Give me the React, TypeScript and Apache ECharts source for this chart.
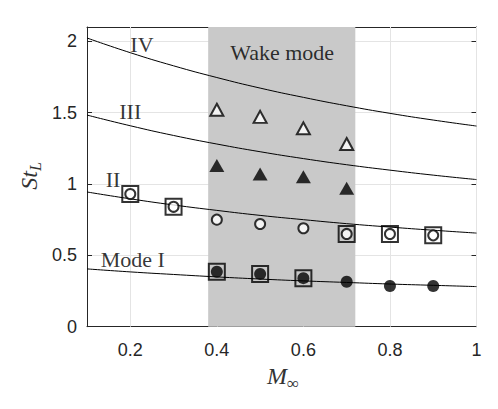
import React, { useEffect, useRef } from "react";
import * as echarts from "echarts";

// Mach numbers at which the Rossiter-mode curves were read
const machGrid = [0.1, 0.2, 0.3, 0.4, 0.5, 0.6, 0.7, 0.8, 0.9, 1.0];
const modeICurve = [0.405, 0.384, 0.366, 0.349, 0.334, 0.321, 0.31, 0.299, 0.29, 0.281];
const modeIICurve = [0.944, 0.896, 0.853, 0.815, 0.78, 0.75, 0.722, 0.698, 0.676, 0.656];
const modeIIICurve = [1.483, 1.408, 1.34, 1.28, 1.226, 1.178, 1.135, 1.097, 1.062, 1.031];
const modeIVCurve = [2.023, 1.92, 1.828, 1.746, 1.672, 1.607, 1.548, 1.495, 1.448, 1.406];

// measured points
const openTriX = [0.4, 0.5, 0.6, 0.7];
const openTriY = [1.52, 1.47, 1.39, 1.28];
const filledTriX = [0.4, 0.5, 0.6, 0.7];
const filledTriY = [1.13, 1.07, 1.05, 0.97];
const openCircX = [0.2, 0.3, 0.4, 0.5, 0.6, 0.7, 0.8, 0.9];
const openCircY = [0.93, 0.84, 0.75, 0.72, 0.69, 0.65, 0.65, 0.64];
const filledCircX = [0.4, 0.5, 0.6, 0.7, 0.8, 0.9];
const filledCircY = [0.385, 0.37, 0.34, 0.315, 0.285, 0.285];
const squareX = [0.2, 0.3, 0.7, 0.8, 0.9, 0.4, 0.5, 0.6];
const squareY = [0.93, 0.84, 0.65, 0.65, 0.64, 0.385, 0.37, 0.34];

// wake mode region
const wakeStart = 0.38;
const wakeEnd = 0.72;

// axis ticks
const xTicks = [0.2, 0.4, 0.6, 0.8, 1];
const yTicks = [0, 0.5, 1, 1.5, 2];

// annotations
const annotTexts = ["IV", "III", "II", "Mode I", "Wake mode"];
const annotX = [0.227, 0.2, 0.16, 0.206, 0.551];
const annotY = [1.98, 1.51, 1.03, 0.47, 1.92];

const zip = (xs: number[], ys: number[]) => xs.map((x, i) => [x, ys[i]]);

export default function App() {
  const ref = useRef<HTMLDivElement>(null);
  useEffect(() => {
    if (!ref.current) return;
    const chart = echarts.init(ref.current, null, { renderer: "svg" });
    const axisColor = "#262626";
    const gridColor = "#e4e4e4";
    const serif = "'Liberation Serif', 'DejaVu Serif', serif";
    const sans = "'Liberation Sans', Arial, sans-serif";
    const curve = (name: string, ys: number[]) => ({
      name,
      type: "line",
      data: zip(machGrid, ys),
      smooth: true,
      showSymbol: false,
      symbol: "none",
      lineStyle: { color: "#000", width: 1 },
      z: 4,
      silent: true,
    });
    const fmt = (v: number) => String(Math.round(v * 10) / 10);
    chart.setOption({
      animation: false,
      grid: { left: 87, right: 21.5, top: 27, bottom: 82.3, containLabel: false },
      xAxis: [
        {
          type: "value",
          min: 0.1,
          max: 1,
          position: "bottom",
          axisLine: { show: true, onZero: false, lineStyle: { color: axisColor, width: 1 } },
          axisTick: { show: true, inside: true, length: 5, customValues: xTicks, lineStyle: { color: axisColor } },
          axisLabel: {
            customValues: xTicks,
            formatter: fmt,
            fontSize: 18,
            color: axisColor,
            fontFamily: sans,
            margin: 14,
          },
          splitLine: { show: false },
        },
        {
          type: "value",
          min: 0.1,
          max: 1,
          position: "top",
          axisLine: { show: true, onZero: false, lineStyle: { color: axisColor, width: 1 } },
          axisTick: { show: true, inside: true, length: 5, customValues: xTicks, lineStyle: { color: axisColor } },
          axisLabel: { show: false },
          splitLine: { show: false },
        },
      ],
      yAxis: [
        {
          type: "value",
          min: 0,
          max: 2.1,
          interval: 0.5,
          position: "left",
          axisLine: { show: true, onZero: false, lineStyle: { color: axisColor, width: 1 } },
          axisTick: { show: true, inside: true, length: 5, customValues: yTicks, lineStyle: { color: axisColor } },
          axisLabel: {
            customValues: yTicks,
            formatter: fmt,
            fontSize: 18,
            color: axisColor,
            fontFamily: sans,
            margin: 10,
          },
          splitLine: { show: true, lineStyle: { color: gridColor, width: 1 } },
        },
        {
          type: "value",
          min: 0,
          max: 2.1,
          interval: 0.5,
          position: "right",
          axisLine: { show: true, onZero: false, lineStyle: { color: axisColor, width: 1 } },
          axisTick: { show: true, inside: true, length: 5, customValues: yTicks, lineStyle: { color: axisColor } },
          axisLabel: { show: false },
          splitLine: { show: false },
        },
      ],
      series: [
        {
          name: "xgrid",
          type: "scatter",
          data: [[0.1, 0]],
          symbolSize: 0,
          silent: true,
          z: 1,
          markLine: {
            z: 1,
            silent: true,
            symbol: "none",
            label: { show: false },
            lineStyle: { color: gridColor, width: 1, type: "solid" },
            data: xTicks.map((v) => ({ xAxis: v })),
          },
        },
        {
          name: "wake",
          type: "scatter",
          data: [[0.1, 0]],
          symbolSize: 0,
          silent: true,
          z: 2,
          markArea: {
            z: 2,
            silent: true,
            itemStyle: { color: "#c9c9c9", opacity: 1 },
            data: [[{ xAxis: wakeStart }, { xAxis: wakeEnd }]],
          },
        },
        curve("Mode I", modeICurve),
        curve("Mode II", modeIICurve),
        curve("Mode III", modeIIICurve),
        curve("Mode IV", modeIVCurve),
        {
          name: "squares",
          type: "scatter",
          data: zip(squareX, squareY),
          symbol: "rect",
          symbolSize: 16,
          itemStyle: { color: "rgba(0,0,0,0)", borderColor: "#000", borderWidth: 2 },
          z: 5,
        },
        {
          name: "open triangles",
          type: "scatter",
          data: zip(openTriX, openTriY),
          symbol: "triangle",
          symbolSize: [13, 12],
          itemStyle: { color: "#fff", borderColor: "#000", borderWidth: 2 },
          z: 6,
        },
        {
          name: "filled triangles",
          type: "scatter",
          data: zip(filledTriX, filledTriY),
          symbol: "triangle",
          symbolSize: [15, 13],
          itemStyle: { color: "#000" },
          z: 6,
        },
        {
          name: "open circles",
          type: "scatter",
          data: zip(openCircX, openCircY),
          symbol: "circle",
          symbolSize: 10,
          itemStyle: { color: "#fff", borderColor: "#000", borderWidth: 2 },
          z: 6,
        },
        {
          name: "filled circles",
          type: "scatter",
          data: zip(filledCircX, filledCircY),
          symbol: "circle",
          symbolSize: 12,
          itemStyle: { color: "#000" },
          z: 6,
        },
        {
          name: "annotations",
          type: "scatter",
          data: annotTexts.map((t, i) => ({ name: t, value: [annotX[i], annotY[i]] })),
          symbolSize: 1,
          itemStyle: { color: "rgba(0,0,0,0)" },
          silent: true,
          z: 7,
          label: {
            show: true,
            position: "inside",
            formatter: "{b}",
            fontFamily: serif,
            fontSize: 22,
            color: "#000",
          },
        },
      ],
      graphic: [
        {
          type: "text",
          x: 29,
          y: 171,
          rotation: Math.PI / 2,
          silent: true,
          style: {
            text: "St",
            fontFamily: serif,
            fontStyle: "italic",
            fontSize: 24,
            fill: "#333",
            align: "right",
            verticalAlign: "middle",
          },
        },
        {
          type: "text",
          x: 35,
          y: 171,
          rotation: Math.PI / 2,
          silent: true,
          style: {
            text: "L",
            fontFamily: serif,
            fontStyle: "italic",
            fontSize: 16,
            fill: "#333",
            align: "left",
            verticalAlign: "middle",
          },
        },
        {
          type: "text",
          x: 287,
          y: 376,
          silent: true,
          style: {
            text: "M",
            fontFamily: serif,
            fontStyle: "italic",
            fontSize: 24,
            fill: "#333",
            align: "right",
            verticalAlign: "middle",
          },
        },
        {
          type: "text",
          x: 287,
          y: 383,
          silent: true,
          style: {
            text: "∞",
            fontFamily: serif,
            fontSize: 17,
            fill: "#333",
            align: "left",
            verticalAlign: "middle",
          },
        },
      ],
    });
    return () => chart.dispose();
  }, []);
  return (
    <div
      ref={ref}
      style={{ position: "fixed", left: 0, top: 0, width: 498, height: 409, background: "#fff" }}
    />
  );
}
